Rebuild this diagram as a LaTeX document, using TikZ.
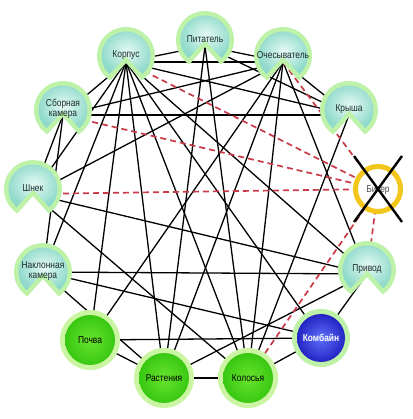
\documentclass[tikz,border=0pt]{standalone}
\usepackage{fontspec}
\setmainfont{Liberation Sans}[FakeStretch=0.84]
\definecolor{ringgreen}{HTML}{BDF2A8}
\definecolor{mintin}{HTML}{E6FAF4}
\definecolor{mintout}{HTML}{8FDACA}
\definecolor{greenin}{HTML}{6AE42C}
\definecolor{greenout}{HTML}{38C812}
\definecolor{greenring}{HTML}{CBF5A2}
\definecolor{bluein}{HTML}{5E70FA}
\definecolor{blueout}{HTML}{2424C4}
\definecolor{ringyellow}{HTML}{F3C61C}
\definecolor{dashred}{HTML}{C83A48}
\definecolor{labelcol}{HTML}{1B2B2B}
\tikzset{
  link/.style={line width=1.3pt, black},
  redlink/.style={line width=1.7pt, color=dashred, dash pattern=on 6pt off 4pt},
  lbl/.style={font=\fontsize{10}{10.5}\selectfont, text=labelcol, align=center, inner sep=0pt},
  cross/.style={line width=2.4pt, black},
}
\newcommand\GrayNode[3]{%
  \begin{scope}[shift={#2}]
    \fill[ringgreen] (-57.3:29) arc[start angle=-57.3, end angle=237.3, radius=29] -- (0,-7) -- cycle;
    \shade[inner color=mintin, outer color=mintout] (-48:24.5) arc[start angle=-48, end angle=228, radius=24.5] -- (0,-0.3) -- cycle;
    \node[lbl] (#1) at (0,1) {#3};
  \end{scope}}
\newcommand\GreenNode[3]{%
  \begin{scope}[shift={#2}]
    \fill[greenring] (0,0) circle[radius=30];
    \shade[inner color=greenin, outer color=greenout] (0,0) circle[radius=25];
    \node[lbl, text=black] (#1) at (0,0) {#3};
  \end{scope}}
\begin{document}
\begin{tikzpicture}[x=1pt,y=1pt]
\fill[white] (0,0) rectangle (412,419);
\useasboundingbox (0,0) rectangle (412,419);
% connection points
\coordinate (kor) at (126,357);
\coordinate (pit) at (205,373);
\coordinate (och) at (283,357);
\coordinate (kry) at (349,304);
\coordinate (bit) at (378,230);
\coordinate (pri) at (367,145);
\coordinate (kom) at (321,81);
\coordinate (kol) at (248,41);
\coordinate (ras) at (164,41);
\coordinate (poc) at (90,79);
\coordinate (nak) at (43,147);
\coordinate (shn) at (33,225);
\coordinate (sbo) at (63,304);
% solid links
\foreach \a/\b in {kor/pit, pit/och, och/kry, kor/sbo, sbo/shn, kor/och, sbo/kry,
  nak/pri, poc/kom, ras/kol, kol/kom, kom/pri, poc/ras,
  kor/shn, kor/nak, kor/poc, kor/ras, kor/kol, kor/kom, kor/pri, kor/kry,
  pit/kry, pit/ras, pit/kol,
  sbo/och, och/poc, och/ras, och/kol, och/pri, och/shn,
  shn/pri, nak/kom, nak/ras, shn/kol, pri/ras, sbo/nak, kry/kol}
  \draw[link] (\a) -- (\b);
% dashed links
\foreach \a in {kor, sbo, shn, och, pri, kol}
  \draw[redlink] (\a) -- (bit);
% nodes
\GrayNode{kor-t}{(126,363)}{Корпус}
\GrayNode{pit-t}{(205,379)}{Питатель}
\GrayNode{och-t}{(283,363)}{Очесыватель}
\GrayNode{kry-t}{(349,309)}{Крыша}
\GrayNode{pri-t}{(367,149)}{Привод}
\GrayNode{nak-t}{(43,147)}{Наклонная\\камера}
\GrayNode{shn-t}{(33,230)}{Шнек}
\GrayNode{sbo-t}{(63,309)}{Сборная\\камера}
\GreenNode{kol-t}{(248,41)}{Колосья}
\GreenNode{ras-t}{(164,41)}{Растения}
\GreenNode{poc-t}{(90,79)}{Почва}
\begin{scope}[shift={(321,81)}]
  \fill[ringgreen] (0,0) circle[radius=29];
  \shade[inner color=bluein, outer color=blueout] (0,0) circle[radius=24];
  \node[lbl, text=white, font=\bfseries\fontsize{10}{10.5}\selectfont] (kom-t) at (0,0) {Комбайн};
\end{scope}
\begin{scope}[shift={(378,230)}]
  \fill[white] (0,0) circle[radius=22];
  \draw[ringyellow, line width=5pt] (0,0) circle[radius=22.5];
  \node[lbl, text=black!70] (bit-t) at (0,-1) {Битер};
  \draw[cross] (-24,33) -- (24,-33);
  \draw[cross] (24,33) -- (-24,-33);
\end{scope}
\end{tikzpicture}
\end{document}
